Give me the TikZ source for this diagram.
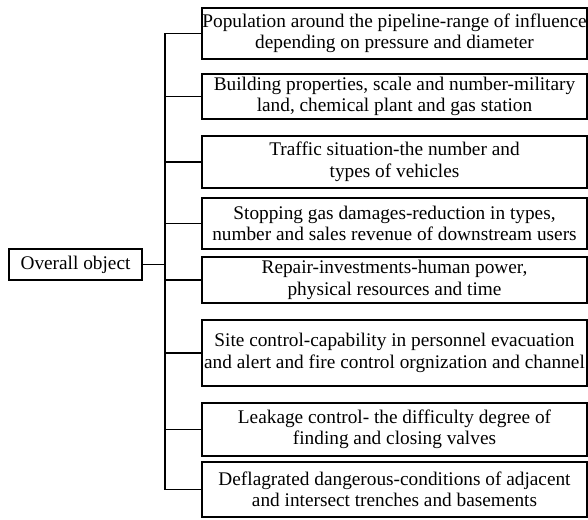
\documentclass[tikz,border=0pt]{standalone}
\usepackage{fontspec}
\setmainfont{Liberation Serif}
\usetikzlibrary{positioning}

\begin{document}
\begin{tikzpicture}[
    x=1pt,y=1pt,
    line width=1.3pt,
    item/.style={draw,rectangle,align=center,inner xsep=0pt,inner ysep=2pt,
      outer sep=0pt,minimum width=385pt,
      font=\fontsize{19.3}{21.5}\selectfont},
  ]
  \useasboundingbox (0,0) rectangle (588,-519);
  % overall object
  \node [draw,rectangle,outer sep=0pt,minimum width=133pt,minimum height=31pt,
      font=\fontsize{19.3}{21.5}\selectfont]
    at (75.5,-264.5) (overall) {Overall object}
  ;
  % factors
  \node [item,minimum height=51pt]
    at (394.5,-33.5) (population)
    {Population around the pipeline-range of influence\\depending on pressure and diameter}
  ;
  \node [item,minimum height=45pt,below=15pt of population]
    (building)
    {Building properties, scale and number-military\\land, chemical plant and gas station}
  ;
  \node [item,minimum height=52pt,below=17pt of building]
    (traffic)
    {Traffic situation-the number and\\types of vehicles}
  ;
  \node [item,minimum height=51pt,below=10pt of traffic]
    (stopping)
    {Stopping gas damages-reduction in types,\\number and sales revenue of downstream users}
  ;
  \node [item,minimum height=46pt,below=8pt of stopping]
    (repair)
    {Repair-investments-human power,\\physical resources and time}
  ;
  \node [item,minimum height=66pt,below=17pt of repair]
    (site)
    {Site control-capability in personnel evacuation\\and alert and fire control orgnization and channel}
  ;
  \node [item,minimum height=53pt,below=17pt of site]
    (leakage)
    {Leakage control- the difficulty degree of\\finding and closing valves}
  ;
  \node [item,minimum height=55pt,below=6pt of leakage]
    (deflagrated)
    {Deflagrated dangerous-conditions of adjacent\\and intersect trenches and basements}
  ;
  % tree
  \coordinate (split) at (165,-264.5);
  \draw
    (overall.east)
    -- (split)
  ;
  \foreach \factor in {population,building,traffic,stopping,repair,site,leakage,deflagrated}
    \draw (split) |- (\factor.west);
\end{tikzpicture}
\end{document}
